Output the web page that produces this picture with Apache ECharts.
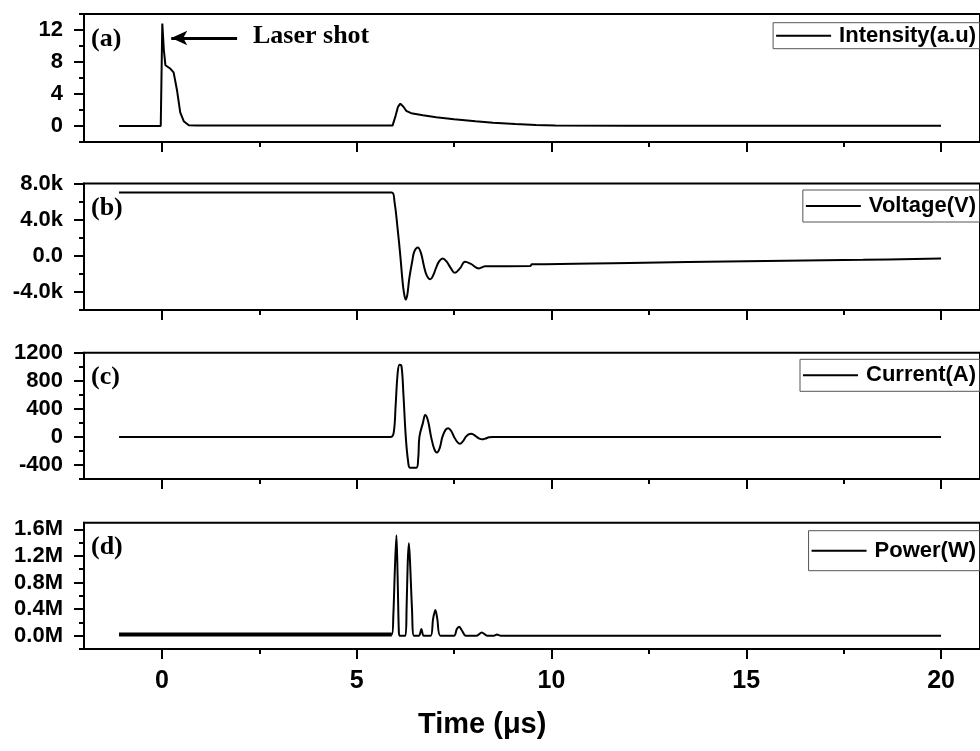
<!DOCTYPE html>
<html>
<head>
<meta charset="utf-8">
<script src="https://cdn.jsdelivr.net/npm/echarts@6/dist/echarts.min.js"></script>
<style>
  html, body { margin: 0; padding: 0; background: #fff; }
  #chart { width: 980px; height: 751px; }
</style>
</head>
<body>
<div id="chart"></div>
<script>
// 数据, time in µs
var intensityT = [-1.1, -0.03, 0.01, 0.05, 0.09, 0.22, 0.3, 0.39, 0.47, 0.56, 0.69, 0.9, 2, 3.5, 5, 5.92, 6.0, 6.06, 6.12, 6.2, 6.27, 6.4, 6.7, 7.04, 7.5, 8.05, 8.5, 9.07, 9.6, 10.1, 12, 15, 18, 20];
var intensityV = [0, 0, 12.8, 9.5, 7.6, 7.15, 6.7, 4.4, 1.7, 0.6, 0.1, 0.05, 0.05, 0.05, 0.05, 0.05, 1.3, 2.4, 2.8, 2.4, 1.9, 1.6, 1.35, 1.1, 0.85, 0.6, 0.4, 0.25, 0.12, 0.05, 0.04, 0.04, 0.04, 0.04];

var voltageT = [-1.1, 5.9, 5.97, 6.05, 6.12, 6.17, 6.21, 6.26, 6.3, 6.35, 6.43, 6.48, 6.57, 6.65, 6.73, 6.8, 6.89, 6.96, 7.04, 7.12, 7.21, 7.3, 7.42, 7.52, 7.65, 7.78, 7.93, 8.14, 8.23, 8.3, 9.45, 9.5, 12, 15, 18, 20];
var voltageV = [7000, 7000, 6000, 3000, 0, -2500, -4000, -4850, -4300, -2500, -500, 500, 930, 300, -1200, -2200, -2600, -2200, -1300, -600, -290, -600, -1400, -1890, -1400, -670, -900, -1400, -1250, -1150, -1140, -950, -800, -600, -450, -300];

var currentT = [-1.1, 5.88, 5.95, 6.0, 6.05, 6.1, 6.15, 6.2, 6.26, 6.32, 6.37, 6.53, 6.58, 6.61, 6.7, 6.76, 6.83, 6.91, 6.99, 7.06, 7.13, 7.2, 7.28, 7.35, 7.43, 7.5, 7.58, 7.65, 7.73, 7.8, 7.87, 7.94, 8.01, 8.08, 8.15, 8.22, 8.3, 8.4, 8.5, 20];
var currentV = [0, 0, 60, 450, 900, 1030, 1010, 600, 0, -350, -440, -440, -300, 0, 200, 311, 230, 0, -170, -223, -160, 0, 100, 125, 80, 0, -70, -98, -60, 0, 35, 46, 30, 0, -25, -35, -25, -5, 0, 0];

var powerT = [-1.1, 5.9, 5.94, 5.98, 6.02, 6.05, 6.08, 6.1, 6.25, 6.28, 6.31, 6.34, 6.37, 6.42, 6.47, 6.6, 6.66, 6.72, 6.9, 6.96, 7.02, 7.07, 7.15, 7.5, 7.57, 7.63, 7.69, 7.8, 8.08, 8.21, 8.35, 8.52, 8.6, 8.7, 20];
var powerV = [20000, 20000, 300000, 1000000, 1510000, 900000, 100000, 0, 0, 400000, 1100000, 1390000, 1100000, 400000, 0, 0, 100000, 0, 0, 250000, 385000, 250000, 0, 0, 100000, 135000, 90000, 0, 0, 50000, 0, 0, 20000, 0, 0];
// noisy pre-discharge baseline of the power trace
var powerNoiseT = [-1.1, 5.9];
var powerNoiseV = [20000, 20000];

var seriesNames = ['Intensity(a.u)', 'Voltage(V)', 'Current(A)', 'Power(W)'];
var panelTags = ['(a)', '(b)', '(c)', '(d)'];
var xMajor = [0, 5, 10, 15, 20];
var xMinor = [2.5, 7.5, 12.5, 17.5];

function zip(t, v) {
  var out = [];
  for (var i = 0; i < t.length; i++) out.push([t[i], v[i]]);
  return out;
}

var panels = [
  { top: 14, height: 128, min: -2, max: 14, major: [0, 4, 8, 12], minor: [-2, 2, 6, 10, 14],
    fmt: function (v) { return String(v); } },
  { top: 183.5, height: 126.5, min: -6000, max: 8000, major: [-4000, 0, 4000, 8000], minor: [-6000, -2000, 2000, 6000],
    fmt: function (v) { return v === 0 ? '0.0' : (v / 1000).toFixed(1) + 'k'; } },
  { top: 352.7, height: 126.3, min: -600, max: 1200, major: [-400, 0, 400, 800, 1200], minor: [-600, -200, 200, 600, 1000],
    fmt: function (v) { return String(v); } },
  { top: 522.7, height: 126.3, min: -200000, max: 1700000, major: [0, 400000, 800000, 1200000, 1600000],
    minor: [-200000, 200000, 600000, 1000000, 1400000],
    fmt: function (v) { return (v / 1e6).toFixed(1) + 'M'; } }
];

var legendBoxes = [
  { top: 22.7, pad: [2, 4, 2, 3] },
  { top: 190, pad: [5, 4, 5, 3] },
  { top: 359.3, pad: [5, 4, 5, 3] },
  { top: 530.7, pad: [9, 4, 9, 3] }
];

var grids = [], xAxes = [], yAxes = [], legends = [], graphics = [];
var tickFamily = 'Liberation Sans, Arial';

panels.forEach(function (p, i) {
  grids.push({ left: 84, right: -10, top: p.top, height: p.height, show: true,
    borderColor: '#000', borderWidth: 2, backgroundColor: 'transparent' });
  var isLast = i === panels.length - 1;
  // main x axis
  xAxes.push({ type: 'value', gridIndex: i, min: -2, max: 21, position: 'bottom',
    axisLine: { show: true, onZero: false, lineStyle: { color: '#000', width: 2 } },
    axisTick: { show: true, customValues: xMajor, length: 10, lineStyle: { color: '#000', width: 2 } },
    axisLabel: { show: isLast, customValues: xMajor, margin: 20, fontSize: 25,
      fontFamily: tickFamily, fontWeight: 'bold', color: '#000' },
    splitLine: { show: false } });
  // minor x ticks
  xAxes.push({ type: 'value', gridIndex: i, min: -2, max: 21, position: 'bottom', offset: 0,
    axisLine: { show: false, onZero: false },
    axisTick: { show: true, customValues: xMinor, length: 5, lineStyle: { color: '#000', width: 2 } },
    axisLabel: { show: false }, splitLine: { show: false } });
  // main y axis
  yAxes.push({ type: 'value', gridIndex: i, min: p.min, max: p.max, position: 'left',
    axisLine: { show: true, onZero: false, lineStyle: { color: '#000', width: 2 } },
    axisTick: { show: true, customValues: p.major, length: 10, lineStyle: { color: '#000', width: 2 } },
    axisLabel: { customValues: p.major, formatter: p.fmt, margin: 21, fontSize: 22,
      fontFamily: tickFamily, fontWeight: 'bold', color: '#000' },
    splitLine: { show: false } });
  // minor y ticks
  yAxes.push({ type: 'value', gridIndex: i, min: p.min, max: p.max, position: 'left', offset: 0,
    axisLine: { show: false, onZero: false },
    axisTick: { show: true, customValues: p.minor, length: 5, lineStyle: { color: '#000', width: 2 } },
    axisLabel: { show: false }, splitLine: { show: false } });

  legends.push({ data: [{ name: seriesNames[i], icon: 'rect' }], right: 0, top: legendBoxes[i].top,
    padding: legendBoxes[i].pad, borderColor: '#555', borderWidth: 1,
    itemWidth: 55, itemHeight: 2, selectedMode: false,
    itemStyle: { color: '#000' },
    textStyle: { fontFamily: tickFamily, fontWeight: 'bold', fontSize: 22, color: '#000',
      padding: [0, 0, 0, 3] } });

  graphics.push({ type: 'text', left: 91, top: p.top + 12,
    style: { text: panelTags[i], font: 'bold 26px "Liberation Serif", "Times New Roman"', fill: '#000' } });
});

graphics.push({ type: 'text', left: 253, top: 23,
  style: { text: 'Laser shot', font: 'bold 26px "Liberation Serif", "Times New Roman"', fill: '#000' } });
graphics.push({ type: 'text', left: 418, top: 710,
  style: { text: 'Time (\u03bcs)', font: 'bold 29px "Liberation Sans", Arial', fill: '#000' } });

var lineStyle = { color: '#000', width: 2 };
var series = [
  { name: seriesNames[0], type: 'line', xAxisIndex: 0, yAxisIndex: 0, symbol: 'none',
    data: zip(intensityT, intensityV), lineStyle: lineStyle, itemStyle: { color: '#000' },
    markLine: { silent: true, symbol: ['none', 'arrow'], symbolSize: [11, 16],
      lineStyle: { color: '#000', width: 3, type: 'solid' }, label: { show: false },
      data: [[{ coord: [1.93, 11] }, { coord: [0.24, 11] }]] } },
  { name: seriesNames[1], type: 'line', xAxisIndex: 2, yAxisIndex: 2, symbol: 'none', smooth: 0.4,
    data: zip(voltageT, voltageV), lineStyle: lineStyle, itemStyle: { color: '#000' } },
  { name: seriesNames[2], type: 'line', xAxisIndex: 4, yAxisIndex: 4, symbol: 'none', smooth: 0.4,
    data: zip(currentT, currentV), lineStyle: lineStyle, itemStyle: { color: '#000' } },
  { name: seriesNames[3], type: 'line', xAxisIndex: 6, yAxisIndex: 6, symbol: 'none', smooth: 0.3,
    data: zip(powerT, powerV), lineStyle: lineStyle, itemStyle: { color: '#000' } },
  { name: 'noise', type: 'line', xAxisIndex: 6, yAxisIndex: 6, symbol: 'none',
    data: zip(powerNoiseT, powerNoiseV), lineStyle: { color: '#000', width: 4 } }
];

var myChart = echarts.init(document.getElementById('chart'));
myChart.setOption({
  animation: false,
  grid: grids,
  xAxis: xAxes,
  yAxis: yAxes,
  legend: legends,
  graphic: graphics,
  series: series
});
</script>
</body>
</html>
